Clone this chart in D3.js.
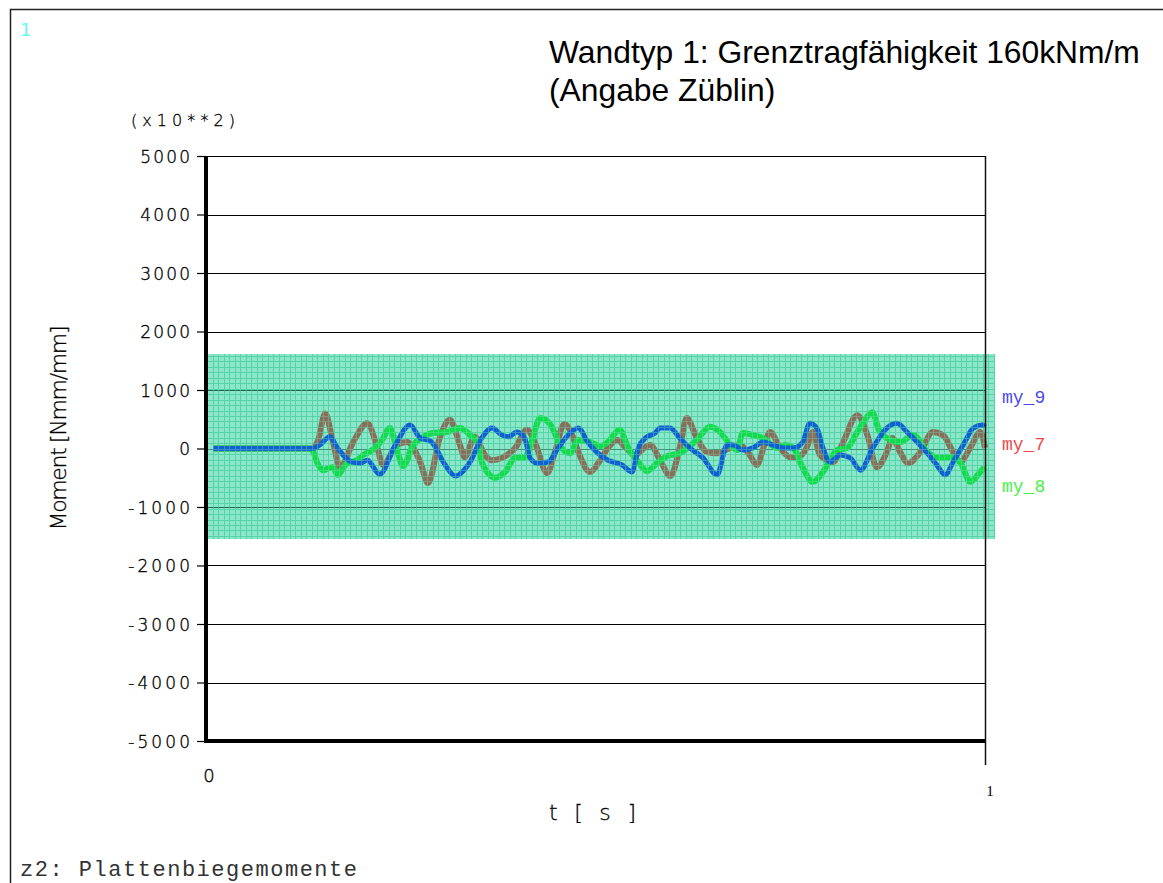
<!DOCTYPE html>
<html>
<head>
<meta charset="utf-8">
<script src="https://cdn.jsdelivr.net/npm/d3@7"></script>
<style>
  body { margin: 0; background: #fff; }
  svg { display: block; }
</style>
</head>
<body>
<svg id="chart" width="1163" height="883"></svg>
<script>
// ---- data -------------------------------------------------------------
const yTicks = [-5000, -4000, -3000, -2000, -1000, 0, 1000, 2000, 3000, 4000, 5000];
const xTicks = [0, 1];
const yDomain = [-5000, 5000];
const xDomain = [0, 1];

// allowed moment range (shaded band)
const bandLimits = [-1540, 1620];

const seriesNames = ["my_7", "my_8", "my_9"];

// [t (s), moment (x10**2 Nmm/mm)]
const my7 = [[0.009,0],[0.137,0],[0.144,145],[0.153,600],[0.163,110],[0.172,-320],[0.189,110],[0.207,430],
  [0.220,10],[0.227,-280],[0.245,60],[0.258,110],[0.275,-230],[0.285,-590],[0.300,180],[0.313,490],
  [0.326,60],[0.332,-150],[0.345,200],[0.358,-110],[0.367,-200],[0.380,-160],[0.397,10],[0.412,320],
  [0.422,110],[0.438,-420],[0.448,-60],[0.460,420],[0.470,230],[0.478,-60],[0.493,-400],[0.506,-200],
  [0.516,10],[0.528,145],[0.538,25],[0.551,-110],[0.564,25],[0.570,60],[0.583,-200],[0.596,-470],
  [0.609,60],[0.617,520],[0.630,180],[0.643,-60],[0.656,-80],[0.673,10],[0.685,60],[0.698,-110],
  [0.707,-280],[0.718,110],[0.724,280],[0.737,10],[0.750,-150],[0.759,-150],[0.771,10],[0.779,280],
  [0.788,-110],[0.805,-230],[0.818,110],[0.836,570],[0.849,230],[0.861,-320],[0.874,-60],[0.881,180],
  [0.891,-60],[0.901,-250],[0.917,-60],[0.933,280],[0.946,230],[0.959,-60],[0.968,-230],[0.981,10],
  [0.994,280],[1.0,10]];

const my8 = [[0.009,0],[0.135,0],[0.144,-280],[0.150,-370],[0.157,-340],[0.163,-320],[0.169,-450],[0.181,-250],
  [0.194,-200],[0.202,-110],[0.214,-25],[0.226,145],[0.236,350],[0.246,-60],[0.253,-300],[0.266,60],
  [0.279,200],[0.291,265],[0.309,280],[0.326,350],[0.339,230],[0.348,110],[0.354,-230],[0.362,-420],
  [0.371,-500],[0.384,-400],[0.397,-160],[0.409,-160],[0.418,110],[0.429,520],[0.444,370],[0.454,60],
  [0.467,-80],[0.478,145],[0.493,110],[0.506,40],[0.516,110],[0.531,320],[0.542,10],[0.555,-230],
  [0.566,-385],[0.579,-250],[0.592,-130],[0.608,-80],[0.621,40],[0.630,145],[0.647,370],[0.660,280],
  [0.673,60],[0.682,-25],[0.689,265],[0.702,230],[0.715,180],[0.733,10],[0.743,60],[0.754,10],
  [0.766,-330],[0.779,-570],[0.792,-400],[0.801,-200],[0.810,-25],[0.823,10],[0.836,280],[0.846,490],
  [0.855,620],[0.865,280],[0.874,180],[0.891,110],[0.908,230],[0.926,-60],[0.942,-160],[0.955,-150],
  [0.968,-230],[0.981,-570],[0.994,-400],[1.0,-320]];

const my9 = [[0.009,0],[0.137,0],[0.146,60],[0.159,200],[0.168,25],[0.176,-110],[0.187,-230],[0.198,-250],
  [0.207,-200],[0.223,-440],[0.243,60],[0.262,400],[0.275,180],[0.288,130],[0.307,-280],[0.320,-470],
  [0.339,-230],[0.354,180],[0.367,350],[0.380,230],[0.388,200],[0.399,280],[0.409,180],[0.416,-160],
  [0.425,-250],[0.439,-230],[0.452,10],[0.465,230],[0.478,350],[0.490,110],[0.503,-80],[0.516,-200],
  [0.534,-280],[0.547,-400],[0.555,10],[0.564,180],[0.576,260],[0.583,350],[0.596,350],[0.608,180],
  [0.621,10],[0.638,-160],[0.656,-450],[0.669,60],[0.677,60],[0.689,-25],[0.702,10],[0.715,110],
  [0.728,60],[0.741,10],[0.754,10],[0.766,110],[0.775,430],[0.784,350],[0.792,10],[0.801,-230],
  [0.814,-110],[0.827,-160],[0.840,-370],[0.856,10],[0.874,350],[0.887,430],[0.900,280],[0.913,110],
  [0.926,-80],[0.938,-280],[0.949,-450],[0.959,-230],[0.972,60],[0.985,350],[0.997,400],[1.0,370]];

// ---- layout -----------------------------------------------------------
const svg = d3.select("#chart");
const plot = { left: 206, right: 985, top: 156, bottom: 741 };

const x = d3.scaleLinear().domain(xDomain).range([plot.left, plot.right]);
const y = d3.scaleLinear().domain(yDomain).range([plot.bottom, plot.top]);

const styles = {
  my_7: { line: "#85705a", width: 6, label: "#f04848", labelY: 445 },
  my_8: { line: "#12dc4e", width: 6, label: "#48f048", labelY: 487 },
  my_9: { line: "#0e62cf", width: 5, label: "#4848f0", labelY: 398 }
};
const seriesData = { my_7: my7, my_8: my8, my_9: my9 };

const thinFont = "DejaVu Sans, sans-serif";

// page frame
svg.append("path")
  .attr("d", "M10.5,883 L10.5,9.5 L1163,9.5")
  .attr("fill", "none").attr("stroke", "#222").attr("stroke-width", 1.5);

// page number
svg.append("text").attr("x", 20).attr("y", 36)
  .attr("font-family", thinFont).attr("font-size", 18)
  .attr("fill", "#66f8f0").text("1");

// title
const title = svg.append("text").attr("font-family", "Liberation Sans, Arial, sans-serif")
  .attr("font-size", 31.8).attr("fill", "#000");
title.append("tspan").attr("x", 549).attr("y", 63).text("Wandtyp 1: Grenztragfähigkeit 160kNm/m");
title.append("tspan").attr("x", 549).attr("y", 101).text("(Angabe Züblin)");

// horizontal grid lines
svg.append("g").selectAll("line").data(yTicks.filter(v => v > yDomain[0] && v < yDomain[1]))
  .join("line")
  .attr("x1", plot.left).attr("x2", plot.right)
  .attr("y1", d => Math.round(y(d)) + 0.5).attr("y2", d => Math.round(y(d)) + 0.5)
  .attr("stroke", "#000").attr("stroke-width", 1);

// shaded band of admissible moments
const bandTop = Math.round(y(bandLimits[1]));
const bandBot = Math.round(y(bandLimits[0]));
const bandLeft = plot.left;
const bandRight = plot.right + 10;

svg.append("defs").append("clipPath").attr("id", "bandClip")
  .append("rect").attr("x", bandLeft).attr("y", bandTop)
  .attr("width", bandRight - bandLeft).attr("height", bandBot - bandTop);

function bandGrid(g, color, opacity) {
  const vx = d3.range(bandLeft + 1, bandRight, 5.5);
  const hy = d3.range(bandTop + 2, bandBot, 5.45);
  g.attr("clip-path", "url(#bandClip)").attr("opacity", opacity);
  g.selectAll("line.v").data(vx).join("line").attr("class", "v")
    .attr("x1", d => Math.round(d) + 0.5).attr("x2", d => Math.round(d) + 0.5)
    .attr("y1", bandTop).attr("y2", bandBot)
    .attr("stroke", color).attr("stroke-width", 1);
  g.selectAll("line.h").data(hy).join("line").attr("class", "h")
    .attr("y1", d => Math.round(d) + 0.5).attr("y2", d => Math.round(d) + 0.5)
    .attr("x1", bandLeft).attr("x2", bandRight)
    .attr("stroke", color).attr("stroke-width", 1);
}

svg.append("rect").attr("x", bandLeft).attr("y", bandTop)
  .attr("width", bandRight - bandLeft).attr("height", bandBot - bandTop)
  .attr("fill", "#8ce6c9");
svg.append("g").call(bandGrid, "#40cf9c", 1);

// grid lines seen through the band
svg.append("g").selectAll("line")
  .data(yTicks.filter(v => y(v) > bandTop && y(v) < bandBot))
  .join("line")
  .attr("x1", plot.left).attr("x2", plot.right)
  .attr("y1", d => Math.round(y(d)) + 0.5).attr("y2", d => Math.round(y(d)) + 0.5)
  .attr("stroke", "#1d6a50").attr("stroke-width", 1.2);

// series lines
const line = d3.line()
  .x(d => x(d[0]))
  .y(d => y(d[1]))
  .curve(d3.curveMonotoneX);

svg.append("g").selectAll("path").data(seriesNames).join("path")
  .attr("d", n => line(seriesData[n]))
  .attr("fill", "none")
  .attr("stroke", n => styles[n].line)
  .attr("stroke-width", n => styles[n].width)
  .attr("stroke-linejoin", "round")
  .attr("stroke-linecap", "butt");

// band hatching shows faintly over the curves
svg.append("g").call(bandGrid, "#7fe0c0", 0.35);

// plot frame: thin top and right, heavy left and bottom axes
svg.append("line").attr("x1", plot.left).attr("x2", plot.right)
  .attr("y1", plot.top + 0.5).attr("y2", plot.top + 0.5)
  .attr("stroke", "#000").attr("stroke-width", 1.2);
svg.append("line").attr("x1", plot.right + 0.5).attr("x2", plot.right + 0.5)
  .attr("y1", plot.top).attr("y2", plot.bottom + 24)
  .attr("stroke", "#111").attr("stroke-width", 1.5);

// y axis
const yAxis = d3.axisLeft(y).tickValues(yTicks).tickSize(9).tickPadding(7)
  .tickFormat(d => d < 0 ? "-" + Math.abs(d) : String(d));
const gy = svg.append("g").attr("transform", `translate(${plot.left},0)`).call(yAxis);
gy.select(".domain").remove();
gy.selectAll(".tick line").attr("stroke", "#000").attr("stroke-width", 1.2);
gy.selectAll(".tick text")
  .attr("font-family", thinFont).attr("font-size", 17).attr("font-weight", 200)
  .attr("fill", "#000").attr("stroke", "#000").attr("stroke-width", 0.35)
  .attr("dy", "0.36em")
  .attr("textLength", d => String(Math.abs(d)).length * 12.7 + (d < 0 ? 12 : 0) - 1)
  .attr("lengthAdjust", "spacing");

svg.append("line").attr("x1", plot.left).attr("x2", plot.left)
  .attr("y1", plot.top).attr("y2", plot.bottom + 2)
  .attr("stroke", "#000").attr("stroke-width", 4);
svg.append("line").attr("x1", plot.left - 2).attr("x2", plot.right)
  .attr("y1", plot.bottom).attr("y2", plot.bottom)
  .attr("stroke", "#000").attr("stroke-width", 4);

// x tick labels
svg.append("text").attr("x", x(xTicks[0]) + 3).attr("y", 782)
  .attr("text-anchor", "middle")
  .attr("font-family", thinFont).attr("font-size", 18).attr("font-weight", 200)
  .attr("stroke", "#000").attr("stroke-width", 0.35)
  .text(String(xTicks[0]));
svg.append("text").attr("x", x(xTicks[1]) + 5).attr("y", 796)
  .attr("text-anchor", "middle")
  .attr("font-family", "Liberation Serif, serif").attr("font-size", 15)
  .text(String(xTicks[1]));

// scale factor note
svg.append("text").attr("x", 131).attr("y", 126)
  .attr("font-family", thinFont).attr("font-size", 16).attr("font-weight", 200)
  .attr("stroke", "#000").attr("stroke-width", 0.3)
  .attr("textLength", 104).attr("lengthAdjust", "spacing")
  .text("(x10**2)");

// axis titles
svg.append("text")
  .attr("transform", "translate(66,428) rotate(-90)")
  .attr("text-anchor", "middle")
  .attr("font-family", thinFont).attr("font-size", 22).attr("font-weight", 200)
  .attr("stroke", "#000").attr("stroke-width", 0.3)
  .attr("textLength", 205).attr("lengthAdjust", "spacing")
  .text("Moment  [Nmm/mm]");

svg.append("text").attr("x", 549).attr("y", 820)
  .attr("font-family", thinFont).attr("font-size", 22).attr("font-weight", 200)
  .attr("stroke", "#000").attr("stroke-width", 0.3)
  .attr("textLength", 87).attr("lengthAdjust", "spacing")
  .text("t  [ s ]");

// series labels
svg.append("g").selectAll("text").data(seriesNames).join("text")
  .attr("x", 1002).attr("y", n => styles[n].labelY + 5)
  .attr("font-family", "Liberation Mono, monospace").attr("font-size", 18)
  .attr("fill", n => styles[n].label)
  .text(n => n);

// footer caption
svg.append("text").attr("x", 20).attr("y", 876)
  .attr("font-family", "Liberation Mono, monospace").attr("font-size", 22)
  .attr("fill", "#333")
  .attr("textLength", 337).attr("lengthAdjust", "spacing")
  .text("z2: Plattenbiegemomente");
</script>
</body>
</html>
